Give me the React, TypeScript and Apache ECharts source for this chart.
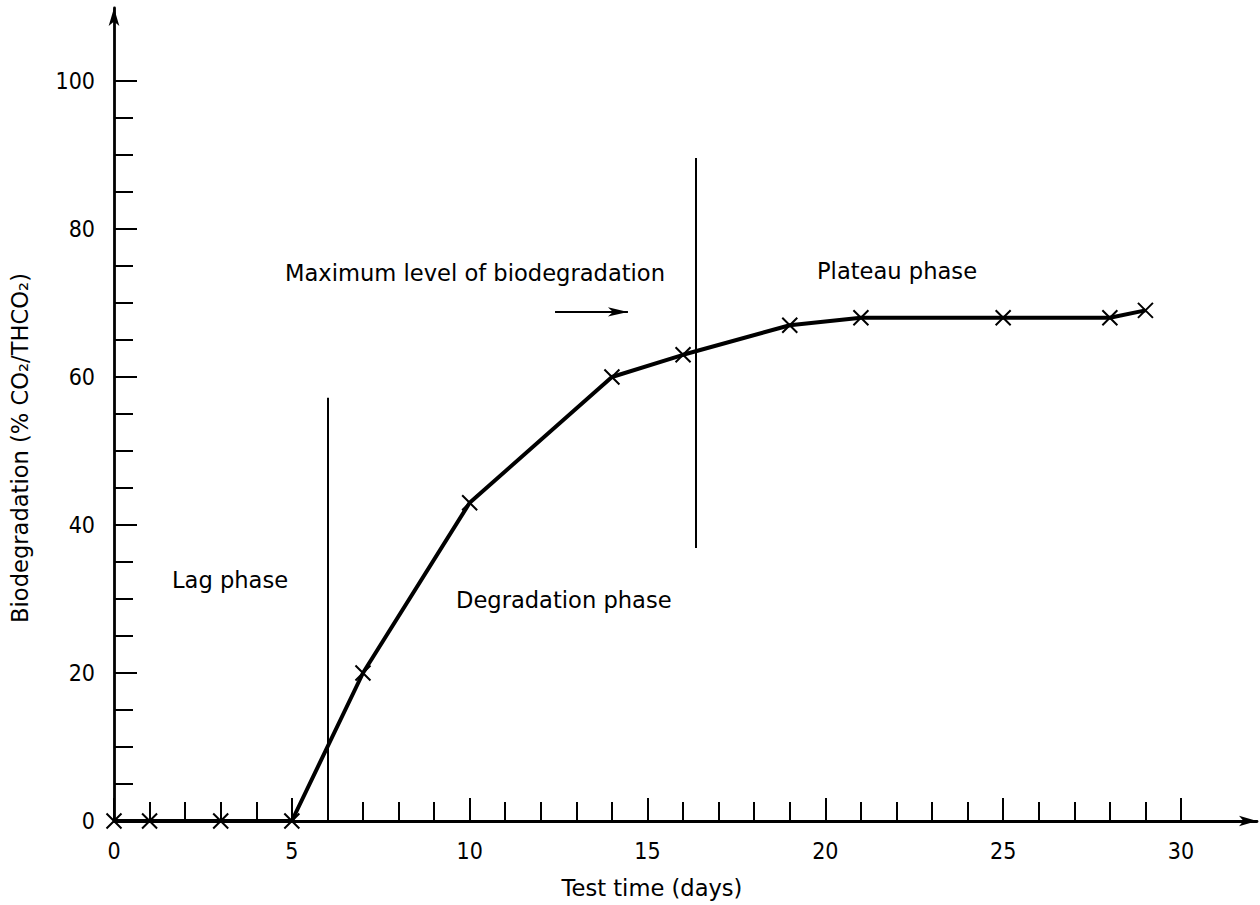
import React, { useEffect, useRef } from "react";
import * as echarts from "echarts";

const days = [0, 1, 3, 5, 7, 10, 14, 16, 19, 21, 25, 28, 29];
const biodegradation = [0, 0, 0, 0, 20, 43, 60, 63, 67, 68, 68, 68, 69];
const lagLine = [[6, 0], [6, 57.2]];
const plateauLine = [[16.36, 36.9], [16.36, 89.6]];
const maxArrow = [[12.4, 68.8], [14.45, 68.8]];
const xTicks = { min: 0, max: 30, interval: 5 };
const yTicks = { min: 0, max: 100, interval: 20 };

const FONT = "'DejaVu Sans', sans-serif";
const TICKFONT = "'DejaVu Sans Condensed', 'DejaVu Sans', sans-serif";

export default function App() {
  const ref = useRef<HTMLDivElement>(null);
  useEffect(() => {
    if (!ref.current) return;
    const chart = echarts.init(ref.current, undefined, { renderer: "svg" });
    const black = "#000";
    const txt = (text: string, x: number, y: number, extra: any = {}) => ({
      type: "text",
      x,
      y,
      ...extra,
      style: { text, fontSize: 22.6, fontFamily: FONT, fill: black, verticalAlign: "middle", ...(extra.style || {}) },
    });
    const option: any = {
      animation: false,
      backgroundColor: "#fff",
      grid: [
        { left: 114, top: 81, width: 1067, height: 740 },
        { left: 114, top: 8, right: 3, bottom: 84 },
      ],
      xAxis: [
        {
          type: "value",
          gridIndex: 0,
          min: xTicks.min,
          max: xTicks.max,
          interval: xTicks.interval,
          axisLine: { show: false },
          axisTick: { show: true, inside: true, length: 23, lineStyle: { color: black, width: 2 } },
          minorTick: { show: true, splitNumber: 5, length: 19, lineStyle: { color: black, width: 2 } },
          axisLabel: { color: black, fontSize: 23, fontFamily: TICKFONT, margin: 18 },
          splitLine: { show: false },
          minorSplitLine: { show: false },
        },
        {
          type: "value",
          gridIndex: 1,
          min: 0,
          max: 1,
          axisLine: { show: true, symbol: ["none", "arrow"], symbolSize: [8, 18], lineStyle: { color: black, width: 2.8 } },
          axisTick: { show: false },
          axisLabel: { show: false },
          splitLine: { show: false },
        },
      ],
      yAxis: [
        {
          type: "value",
          gridIndex: 0,
          min: yTicks.min,
          max: yTicks.max,
          interval: yTicks.interval,
          axisLine: { show: false },
          axisTick: { show: true, inside: true, length: 23, lineStyle: { color: black, width: 2 } },
          minorTick: { show: true, splitNumber: 4, length: 19, lineStyle: { color: black, width: 2 } },
          axisLabel: { color: black, fontSize: 23, fontFamily: TICKFONT, margin: 19 },
          splitLine: { show: false },
          minorSplitLine: { show: false },
        },
        {
          type: "value",
          gridIndex: 1,
          min: 0,
          max: 1,
          axisLine: { show: true, symbol: ["none", "arrow"], symbolSize: [8, 18], lineStyle: { color: black, width: 2.8 } },
          axisTick: { show: false },
          axisLabel: { show: false },
          splitLine: { show: false },
        },
      ],
      series: [
        {
          type: "line",
          xAxisIndex: 0,
          yAxisIndex: 0,
          data: days.map((d, i) => [d, biodegradation[i]]),
          clip: false,
          symbol: "path://M0,0L10,10M10,0L0,10",
          symbolSize: 15,
          lineStyle: { color: black, width: 4 },
          itemStyle: { color: "rgba(0,0,0,0)", borderColor: black, borderWidth: 2 },
          z: 5,
          markLine: {
            silent: true,
            animation: false,
            symbol: ["none", "none"],
            label: { show: false },
            lineStyle: { color: black, width: 2, type: "solid" },
            data: [
              [{ coord: lagLine[0] }, { coord: lagLine[1] }],
              [{ coord: plateauLine[0] }, { coord: plateauLine[1] }],
              [
                { coord: maxArrow[0], symbol: "none" },
                { coord: maxArrow[1], symbol: "arrow", symbolSize: [7, 20] },
              ],
            ],
          },
        },
      ],
      graphic: [
        txt("Maximum level of biodegradation", 285, 273),
        txt("Plateau phase", 817, 271),
        txt("Lag phase", 172, 580),
        txt("Degradation phase", 456, 600),
        txt("Test time (days)", 652, 888, { style: { align: "center" } }),
        txt("Biodegradation (% CO₂/THCO₂)", 20, 448, { rotation: Math.PI / 2, style: { align: "center" } }),
      ],
    };
    chart.setOption(option);
    return () => chart.dispose();
  }, []);
  return <div ref={ref} style={{ position: "absolute", left: 0, top: 0, width: 1260, height: 905 }} />;
}
